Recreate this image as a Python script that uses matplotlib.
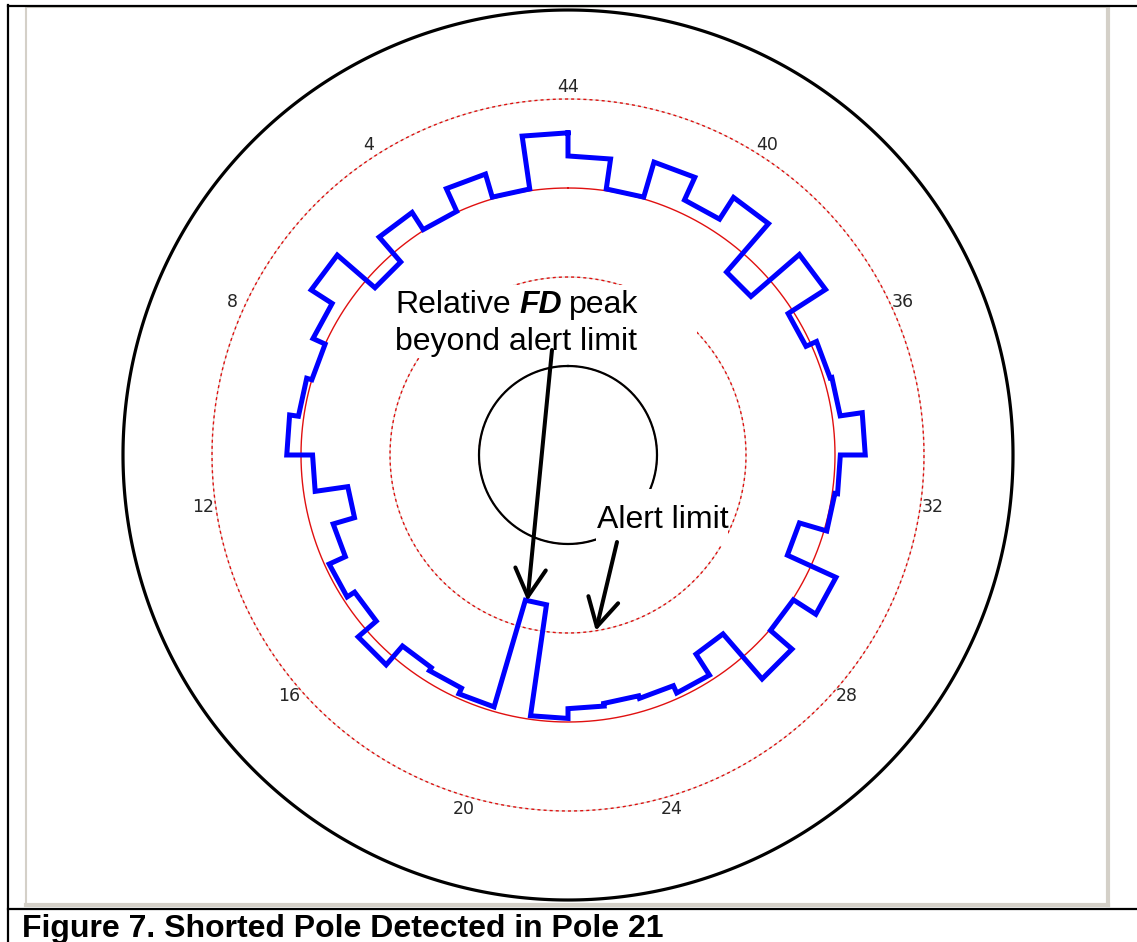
import matplotlib.pyplot as plt
import numpy as np
from matplotlib.patches import Rectangle, Polygon

plt.rcParams["font.family"] = ["Liberation Sans", "DejaVu Sans"]

# relative FD per pole (pole k spans positions k-1 .. k, pole 44 ends at the top)
n_poles = 44
poles = np.arange(1, n_poles + 1)
rel_fd = [
    3.62, 3.02, 3.29, 3.01, 3.24, 2.87, 3.43, 3.15, 3.00, 3.06,
    3.16, 2.87, 2.50, 2.75, 2.95, 2.85, 3.12, 2.84, 2.88, 2.95,
    1.70, 2.96, 2.85, 2.82, 2.85, 2.94, 2.66, 3.33, 3.01, 3.31,
    2.71, 3.03, 3.06, 3.34, 3.09, 3.07, 2.94, 3.44, 2.72, 3.44,
    3.15, 3.43, 3.02, 3.36,
]
mean_level = 3.0
alert_limit = 2.0
dashed_rings = [1.0, 2.0, 4.0]
outer_ring = 5.0
label_poles = [4, 8, 12, 16, 20, 24, 28, 32, 36, 40, 44]


def pole_angle(p):
    return np.asarray(p, dtype=float) * 2 * np.pi / n_poles


W, H = 1137, 942
fig = plt.figure(figsize=(W / 100, H / 100), dpi=100)

# pixel overlay for frame, boxes and notes (y grows downward)
ov = fig.add_axes([0, 0, 1, 1], zorder=2)
ov.set_xlim(0, W)
ov.set_ylim(H, 0)
ov.axis("off")
ov.patch.set_alpha(0)

cx, cy, R = 568, 455, 445
ax = fig.add_axes([(cx - R) / W, (H - cy - R) / H, 2 * R / W, 2 * R / H],
                  projection="polar", zorder=1)
ax.set_theta_zero_location("N")
ax.set_theta_direction(1)
ax.set_rlim(0, outer_ring)
ax.grid(False)
ax.set_xticks([])
ax.set_yticks([])
ax.xaxis.set_visible(False)
ax.yaxis.set_visible(False)
ax.spines["polar"].set_visible(False)
ax.patch.set_alpha(0)

full = np.linspace(0, 2 * np.pi, 721)

# outer boundary ring as a closed outline
ring = np.column_stack([full[:-1], np.full(720, outer_ring)])
ax.add_patch(Polygon(ring, closed=True, fill=False, edgecolor="black",
                     lw=2.3, joinstyle="round", clip_on=False))

# dashed reference rings (red dashes over a pale grey line)
for rv in dashed_rings:
    ax.plot(full, np.full_like(full, rv), color="#d8d4cc", lw=0.8)
    ax.plot(full, np.full_like(full, rv), color="#e01010", lw=1.0,
            linestyle=(0, (2.2, 2.2)))

# mean ring
ax.plot(full, np.full_like(full, mean_level), color="#e01010", lw=1.0)

# inner black ring
ax.plot(full, np.full_like(full, dashed_rings[0]), color="black", lw=1.6)

# pole labels
for p in label_poles:
    ax.text(pole_angle(p), 4.14, str(p), ha="center", va="center",
            fontsize=12.5, color="#262626", family="DejaVu Sans")

# stepped FD trace
th = np.column_stack([poles - 1, poles]).ravel()
rr = np.repeat(rel_fd, 2)
th = np.append(th, th[0])
rr = np.append(rr, rr[0])
ax.plot(pole_angle(th), rr, color="#0000ff", lw=3.6, solid_joinstyle="miter",
        zorder=4)

# white backing behind the notes
ov.add_patch(Rectangle((392, 285), 305, 73, facecolor="white", edgecolor="none"))
ov.add_patch(Rectangle((596, 489), 132, 57, facecolor="white", edgecolor="none"))

fs = 23
t1 = ov.text(395, 313, "Relative", fontsize=fs, va="baseline")
ov.text(395, 350, "beyond alert limit", fontsize=fs, va="baseline")
rend = fig.canvas.get_renderer()
x1 = ov.transData.inverted().transform(t1.get_window_extent(rend).p1)[0] + 9
t3 = ov.text(x1, 313, "FD", fontsize=fs, va="baseline", weight="bold",
             style="italic")
x2 = ov.transData.inverted().transform(t3.get_window_extent(rend).p1)[0] + 7
ov.text(x2, 313, "peak", fontsize=fs, va="baseline")
ov.text(597, 528, "Alert limit", fontsize=fs, va="baseline")

arrow = dict(arrowstyle="->,head_length=1.0,head_width=0.55", lw=2.9,
             color="black", shrinkA=0, shrinkB=0, mutation_scale=20)
ov.annotate("", xy=(pole_angle(20.1), rel_fd[20]), xycoords=ax.transData,
            xytext=(552, 350), textcoords="data", arrowprops=arrow)
ov.annotate("", xy=(pole_angle(23.1), alert_limit), xycoords=ax.transData,
            xytext=(617, 542), textcoords="data", arrowprops=arrow)

# window frame
grey = "#d4d0c8"
ov.plot([26, 26], [7, 905], color=grey, lw=1.5)
ov.plot([26, 1107], [7, 7], color=grey, lw=0.8)
ov.plot([26, 1108], [905, 905], color=grey, lw=3)
ov.plot([1108, 1108], [7, 905], color=grey, lw=3)
ov.plot([8, 8], [5, H], color="black", lw=1.6)
ov.plot([8, W], [5.5, 5.5], color="black", lw=1.6)
ov.plot([8, W], [909, 909], color="black", lw=1.6)

ov.text(22, 937, "Figure 7. Shorted Pole Detected in Pole 21", fontsize=23,
        weight="bold", va="baseline")

fig.savefig("out.png", dpi=100)
